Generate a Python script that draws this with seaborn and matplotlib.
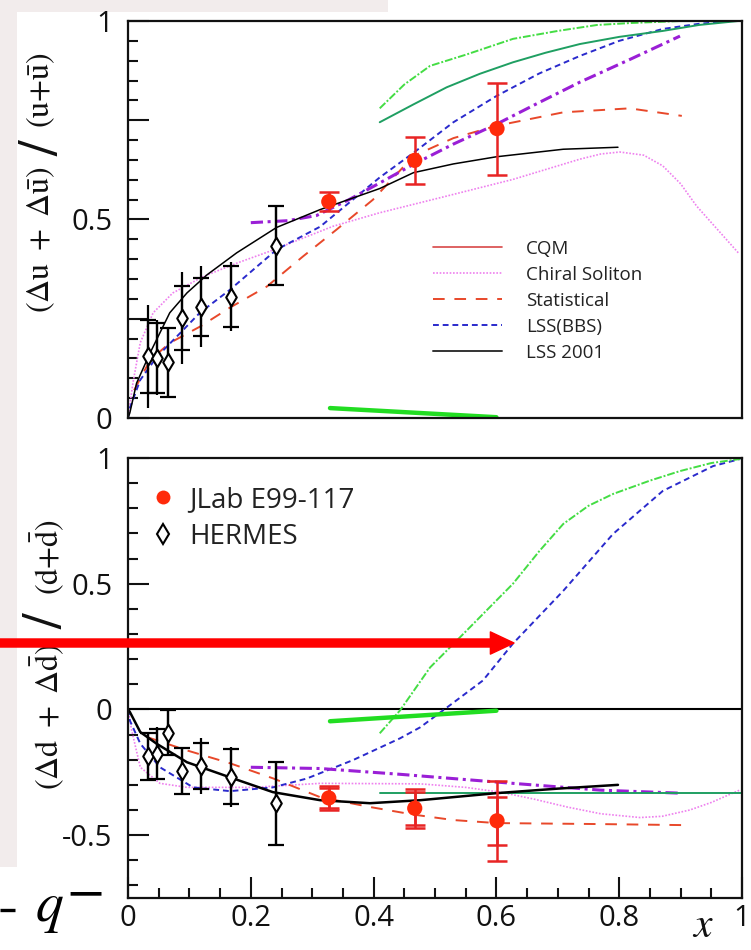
import matplotlib
matplotlib.use("Agg")
import matplotlib.pyplot as plt
import seaborn as sns
from matplotlib.lines import Line2D
from matplotlib.patches import FancyArrowPatch, Rectangle
from matplotlib.ticker import MultipleLocator, FixedLocator

# ---------------- data ----------------
# top panel: (Δu+Δū)/(u+ū)
top_lss01_x = [0.0, 0.003, 0.014, 0.036, 0.068, 0.096, 0.129, 0.177, 0.242, 0.313, 0.41, 0.465, 0.53, 0.6, 0.709, 0.798]
top_lss01_y = [0.0, 0.013, 0.088, 0.164, 0.265, 0.315, 0.361, 0.416, 0.48, 0.525, 0.578, 0.618, 0.64, 0.658, 0.677, 0.682]
top_chiral_x = [0.0, 0.008, 0.02, 0.041, 0.073, 0.122, 0.177, 0.231, 0.334, 0.41, 0.519, 0.627, 0.736, 0.77, 0.801, 0.84, 0.871, 0.9, 0.926, 0.96, 0.994]
top_chiral_y = [0.0, 0.088, 0.19, 0.265, 0.315, 0.356, 0.39, 0.42, 0.483, 0.517, 0.559, 0.601, 0.652, 0.665, 0.67, 0.662, 0.635, 0.59, 0.534, 0.475, 0.416]
top_stat_x = [0.01, 0.036, 0.068, 0.117, 0.166, 0.226, 0.285, 0.34, 0.399, 0.465, 0.53, 0.6, 0.709, 0.817, 0.902]
top_stat_y = [0.07, 0.146, 0.189, 0.23, 0.278, 0.331, 0.407, 0.475, 0.55, 0.66, 0.705, 0.736, 0.77, 0.78, 0.761]
top_bbs_x = [0.0, 0.003, 0.02, 0.047, 0.085, 0.117, 0.166, 0.242, 0.313, 0.41, 0.465, 0.53, 0.6, 0.67, 0.736, 0.8, 0.871, 0.93, 0.985, 1.0]
top_bbs_y = [0.0, 0.025, 0.096, 0.154, 0.214, 0.265, 0.323, 0.424, 0.482, 0.606, 0.668, 0.745, 0.811, 0.868, 0.912, 0.95, 0.98, 0.993, 1.0, 1.0]
top_purple_x = [0.2, 0.26, 0.307, 0.36, 0.41, 0.465, 0.53, 0.6, 0.67, 0.736, 0.82, 0.899]
top_purple_y = [0.492, 0.497, 0.51, 0.55, 0.592, 0.639, 0.69, 0.74, 0.795, 0.846, 0.905, 0.962]
top_teal_x = [0.41, 0.465, 0.519, 0.573, 0.627, 0.68, 0.736, 0.8, 0.871, 0.93, 0.994]
top_teal_y = [0.745, 0.79, 0.833, 0.867, 0.896, 0.92, 0.942, 0.96, 0.975, 0.99, 1.0]
top_lime_x = [0.41, 0.45, 0.492, 0.55, 0.627, 0.7, 0.764, 0.82, 0.9, 1.0]
top_lime_y = [0.78, 0.84, 0.887, 0.915, 0.955, 0.975, 0.99, 0.995, 1.0, 1.0]
top_green_x = [0.329, 0.6]
top_green_y = [0.025, 0.002]

# bottom panel: (Δd+Δd̄)/(d+d̄)
bot_lss01_x = [0.0, 0.003, 0.02, 0.047, 0.096, 0.166, 0.236, 0.313, 0.394, 0.476, 0.6, 0.7, 0.798]
bot_lss01_y = [0.0, -0.01, -0.09, -0.137, -0.21, -0.27, -0.329, -0.361, -0.373, -0.361, -0.333, -0.315, -0.30]
bot_stat_x = [0.031, 0.096, 0.166, 0.236, 0.313, 0.394, 0.464, 0.53, 0.6, 0.769, 0.902]
bot_stat_y = [-0.11, -0.163, -0.214, -0.274, -0.349, -0.388, -0.418, -0.44, -0.452, -0.456, -0.46]
bot_chiral_x = [0.0, 0.006, 0.02, 0.052, 0.096, 0.204, 0.313, 0.476, 0.55, 0.606, 0.66, 0.715, 0.77, 0.834, 0.87, 0.915, 0.95, 0.997]
bot_chiral_y = [0.0, -0.083, -0.23, -0.294, -0.31, -0.31, -0.294, -0.296, -0.31, -0.329, -0.356, -0.388, -0.415, -0.43, -0.425, -0.40, -0.37, -0.32]
bot_bbs_x = [0.0, 0.003, 0.02, 0.052, 0.106, 0.166, 0.236, 0.291, 0.366, 0.443, 0.476, 0.524, 0.578, 0.627, 0.709, 0.79, 0.871, 0.953, 0.997]
bot_bbs_y = [0.0, -0.044, -0.136, -0.23, -0.31, -0.325, -0.31, -0.275, -0.202, -0.115, -0.071, 0.016, 0.115, 0.262, 0.472, 0.698, 0.869, 0.968, 0.996]
bot_lime_x = [0.41, 0.443, 0.492, 0.546, 0.627, 0.67, 0.709, 0.75, 0.79, 0.85, 0.899, 0.95, 0.997]
bot_lime_y = [-0.095, -0.004, 0.167, 0.3, 0.5, 0.63, 0.738, 0.81, 0.857, 0.91, 0.948, 0.98, 0.996]
bot_purple_x = [0.2, 0.313, 0.443, 0.606, 0.769, 0.899]
bot_purple_y = [-0.23, -0.235, -0.258, -0.29, -0.321, -0.333]
bot_teal_x = [0.41, 1.0]
bot_teal_y = [-0.333, -0.333]
bot_green_x = [0.329, 0.6]
bot_green_y = [-0.047, -0.005]

# data points
jlab_x = [0.327, 0.467, 0.601]
jlab_top_y = [0.545, 0.649, 0.729]
jlab_top_err = [0.024, 0.06, 0.116]
jlab_bot_y = [-0.352, -0.393, -0.443]
jlab_bot_stat = [0.040, 0.065, 0.095]
jlab_bot_tot = [0.048, 0.078, 0.16]

hermes_x = [0.033, 0.048, 0.065, 0.088, 0.119, 0.168, 0.241]
hermes_top_y = [0.155, 0.152, 0.140, 0.252, 0.280, 0.306, 0.434]
hermes_top_stat = [0.092, 0.088, 0.086, 0.080, 0.073, 0.078, 0.100]
hermes_top_tot = [0.130, 0.095, 0.090, 0.117, 0.102, 0.086, 0.100]
hermes_bot_y = [-0.187, -0.176, -0.093, -0.245, -0.225, -0.268, -0.374]
hermes_bot_stat = [0.095, 0.100, 0.090, 0.090, 0.090, 0.110, 0.165]
hermes_bot_tot = [0.095, 0.105, 0.093, 0.095, 0.113, 0.120, 0.168]

top_legend_labels = ["CQM", "Chiral Soliton", "Statistical", "LSS(BBS)", "LSS 2001"]
bot_legend_labels = ["JLab E99-117", "HERMES"]
x_ticks = [0, 0.2, 0.4, 0.6, 0.8, 1.0]
x_tick_labels = ["0", "0.2", "0.4", "0.6", "0.8", "1"]
top_y_ticks = [0, 0.25, 0.5, 0.75, 1.0]
top_y_tick_labels = ["0", "", "0.5", "", "1"]
bot_y_ticks = [-0.5, 0, 0.5, 1.0]
bot_y_tick_labels = ["-0.5", "0", "0.5", "1"]

# ---------------- style ----------------
sns.set_style("ticks")
plt.rcParams["font.family"] = ["Open Sans", "DejaVu Sans"]
plt.rcParams["mathtext.fontset"] = "stix"

W, H = 751, 950
fig = plt.figure(figsize=(W / 100, H / 100), dpi=100)
fig.patch.set_facecolor("white")


def fx(px):
    return px / W


def fy(py):
    return 1 - py / H


# slide background strips
fig.patches.append(Rectangle((0, fy(867)), fx(17), 867 / H, transform=fig.transFigure,
                             facecolor="#f2ecec", edgecolor="none", zorder=-5))
fig.patches.append(Rectangle((0, fy(12)), fx(388), 12 / H, transform=fig.transFigure,
                             facecolor="#f2ecec", edgecolor="none", zorder=-5))

ax1 = fig.add_axes([fx(128), fy(418), fx(742) - fx(128), (418 - 21) / H])
ax2 = fig.add_axes([fx(128), fy(898), fx(742) - fx(128), (898 - 458) / H])

C_RED = "#ff2a0a"
C_ERR = "#e82424"
C_CHIRAL = "#ee80ee"
C_STAT = "#e8482a"
C_BBS = "#2a2acc"
C_PURPLE = "#9a1fd6"
C_TEAL = "#1f9f62"
C_LIME = "#44dd44"
C_GREEN = "#22dd22"


def curve(ax, xs, ys, color, lw, ls="-", z=2):
    sns.lineplot(x=xs, y=ys, ax=ax, sort=False, estimator=None, color=color,
                 linewidth=lw, linestyle=ls, zorder=z, legend=False)


# top panel curves
curve(ax1, top_chiral_x, top_chiral_y, C_CHIRAL, 1.2, (0, (1, 1)))
curve(ax1, top_stat_x, top_stat_y, C_STAT, 1.4, (0, (6, 5)))
curve(ax1, top_bbs_x, top_bbs_y, C_BBS, 1.4, (0, (3, 2)))
curve(ax1, top_purple_x, top_purple_y, C_PURPLE, 2.2, (0, (4, 1.5, 1, 1.5)))
curve(ax1, top_teal_x, top_teal_y, C_TEAL, 1.4)
curve(ax1, top_lime_x, top_lime_y, C_LIME, 1.4, (0, (4, 1, 1, 1)))
curve(ax1, top_green_x, top_green_y, C_GREEN, 3.2)
curve(ax1, top_lss01_x, top_lss01_y, "black", 1.1)

# bottom panel curves
ax2.axhline(0, color="black", lw=1.5, zorder=1)
curve(ax2, bot_chiral_x, bot_chiral_y, C_CHIRAL, 1.2, (0, (1, 1)))
curve(ax2, bot_stat_x, bot_stat_y, C_STAT, 1.4, (0, (6, 5)))
curve(ax2, bot_bbs_x, bot_bbs_y, C_BBS, 1.4, (0, (3, 2)))
curve(ax2, bot_purple_x, bot_purple_y, C_PURPLE, 2.2, (0, (4, 1.5, 1, 1.5)))
curve(ax2, bot_teal_x, bot_teal_y, C_TEAL, 1.4)
curve(ax2, bot_lime_x, bot_lime_y, C_LIME, 1.4, (0, (4, 1, 1, 1)))
curve(ax2, bot_green_x, bot_green_y, C_GREEN, 3.2)
curve(ax2, bot_lss01_x, bot_lss01_y, "black", 1.8)

# error bars
ax1.errorbar(hermes_x, hermes_top_y, yerr=hermes_top_tot, fmt="none", ecolor="black", elinewidth=1.6, capsize=0, zorder=3)
ax1.errorbar(hermes_x, hermes_top_y, yerr=hermes_top_stat, fmt="none", ecolor="black", elinewidth=1.6, capsize=6, capthick=1.6, zorder=3)
ax2.errorbar(hermes_x, hermes_bot_y, yerr=hermes_bot_tot, fmt="none", ecolor="black", elinewidth=1.6, capsize=0, zorder=3)
ax2.errorbar(hermes_x, hermes_bot_y, yerr=hermes_bot_stat, fmt="none", ecolor="black", elinewidth=1.6, capsize=6, capthick=1.6, zorder=3)
ax1.errorbar(jlab_x, jlab_top_y, yerr=jlab_top_err, fmt="none", ecolor=C_ERR, elinewidth=1.8, capsize=7, capthick=1.8, zorder=3)
ax2.errorbar(jlab_x, jlab_bot_y, yerr=jlab_bot_tot, fmt="none", ecolor=C_ERR, elinewidth=1.8, capsize=7, capthick=1.8, zorder=3)
ax2.errorbar(jlab_x, jlab_bot_y, yerr=jlab_bot_stat, fmt="none", ecolor=C_ERR, elinewidth=1.8, capsize=7, capthick=1.8, zorder=3)

# points
for ax, hy, jy in [(ax1, hermes_top_y, jlab_top_y), (ax2, hermes_bot_y, jlab_bot_y)]:
    sns.scatterplot(x=hermes_x, y=hy, ax=ax, marker="d", s=80, facecolor="white",
                    edgecolor="black", linewidth=1.5, zorder=4, legend=False)
    sns.scatterplot(x=jlab_x, y=jy, ax=ax, marker="o", s=120, color=C_RED,
                    edgecolor="none", zorder=4, legend=False)

# axes formatting
for ax in (ax1, ax2):
    ax.set_xlim(0, 1)
    for sp in ax.spines.values():
        sp.set_linewidth(1.6)
        sp.set_color("#111111")
    ax.tick_params(axis="both", which="both", direction="in", colors="#111111",
                   labelsize=21, labelcolor="#111111", width=1.5,
                   top=False, right=False)
    ax.tick_params(which="major", length=15)
    ax.tick_params(which="minor", length=7.5)
    ax.tick_params(axis="y", pad=11)
    ax.set_xlabel("")
    ax.set_ylabel("")

ax1.set_ylim(0, 1)
ax1.yaxis.set_major_locator(FixedLocator(top_y_ticks))
ax1.set_yticklabels(top_y_tick_labels)
ax1.yaxis.set_minor_locator(MultipleLocator(0.05))
ax1.tick_params(axis="x", which="both", bottom=False, labelbottom=False)

ax2.set_ylim(-0.75, 1)
ax2.yaxis.set_major_locator(FixedLocator(bot_y_ticks))
ax2.set_yticklabels(bot_y_tick_labels)
ax2.yaxis.set_minor_locator(MultipleLocator(0.1))
ax2.xaxis.set_major_locator(FixedLocator(x_ticks))
ax2.set_xticklabels(x_tick_labels)
ax2.xaxis.set_minor_locator(MultipleLocator(0.05))
ax2.tick_params(axis="x", pad=4)

# legends
top_handles = [
    Line2D([], [], color="#d84848", lw=1.2),
    Line2D([], [], color=C_CHIRAL, lw=1.2, ls=(0, (1, 1))),
    Line2D([], [], color=C_STAT, lw=1.4, ls=(0, (6, 5))),
    Line2D([], [], color=C_BBS, lw=1.4, ls=(0, (3, 2))),
    Line2D([], [], color="#333333", lw=1.4),
]
leg1 = ax1.legend(top_handles, top_legend_labels, loc="upper left",
                  bbox_to_anchor=((433 - 128) / 614, (418 - 240) / 397),
                  frameon=False, fontsize=13.5, handlelength=3.7, handletextpad=1.25,
                  labelspacing=0.42, borderpad=0, borderaxespad=0)
for t in leg1.get_texts():
    t.set_color("#222222")

bot_handles = [
    Line2D([], [], marker="o", ls="none", color=C_RED, ms=10, mec="none"),
    Line2D([], [], marker="d", ls="none", mfc="white", mec="black", ms=10, mew=1.5),
]
leg2 = ax2.legend(bot_handles, bot_legend_labels, loc="upper left",
                  bbox_to_anchor=((153 - 128) / 614, (898 - 486) / 440),
                  frameon=False, fontsize=20, handlelength=0.75, handletextpad=0.55,
                  labelspacing=0.32, borderpad=0, borderaxespad=0)
for t in leg2.get_texts():
    t.set_color("#222222")

# y-axis titles (serif, in three parts with a large slash)
lab_kw = dict(rotation=90, ha="center", va="center", fontsize=23, color="#111111")
slash_kw = dict(rotation=90, ha="center", va="center", fontsize=40, color="#111111")
fig.text(fx(41), fy(240), r"$(\Delta\mathrm{u}\ +\ \Delta\bar{\mathrm{u}})$", **lab_kw)
fig.text(fx(43), fy(147), r"$/$", **slash_kw)
fig.text(fx(41), fy(90), r"$(\mathrm{u}{+}\bar{\mathrm{u}})$", **lab_kw)

fig.text(fx(48), fy(717), r"$(\Delta\mathrm{d}\ +\ \Delta\bar{\mathrm{d}})$", **lab_kw)
fig.text(fx(47), fy(620), r"$/$", **slash_kw)
fig.text(fx(48), fy(557), r"$(\mathrm{d}{+}\bar{\mathrm{d}})$", **lab_kw)

# x-axis title
fig.text(fx(703), fy(947), r"$x$", ha="center", va="bottom", fontsize=30, color="#111111")

# slide fragment at bottom-left: clipped minus and q^-
fig.add_artist(Line2D([0, fx(15)], [fy(910), fy(910)], transform=fig.transFigure,
                      color="black", lw=2.4, solid_capstyle="butt"))
fig.text(fx(35), fy(921), r"$q$", ha="left", va="baseline", fontsize=40, color="black")
fig.text(fx(66), fy(906), r"$-$", ha="left", va="baseline", fontsize=40, color="black")

# red arrow across the bottom panel
arrow = FancyArrowPatch((fx(-2), fy(643)), (fx(514), fy(643)), transform=fig.transFigure,
                        arrowstyle="simple,head_length=0.85,head_width=0.8,tail_width=0.29",
                        mutation_scale=20, color="#ff0000", shrinkA=0, shrinkB=0, zorder=10)
fig.patches.append(arrow)

fig.savefig("out.png", dpi=100)
